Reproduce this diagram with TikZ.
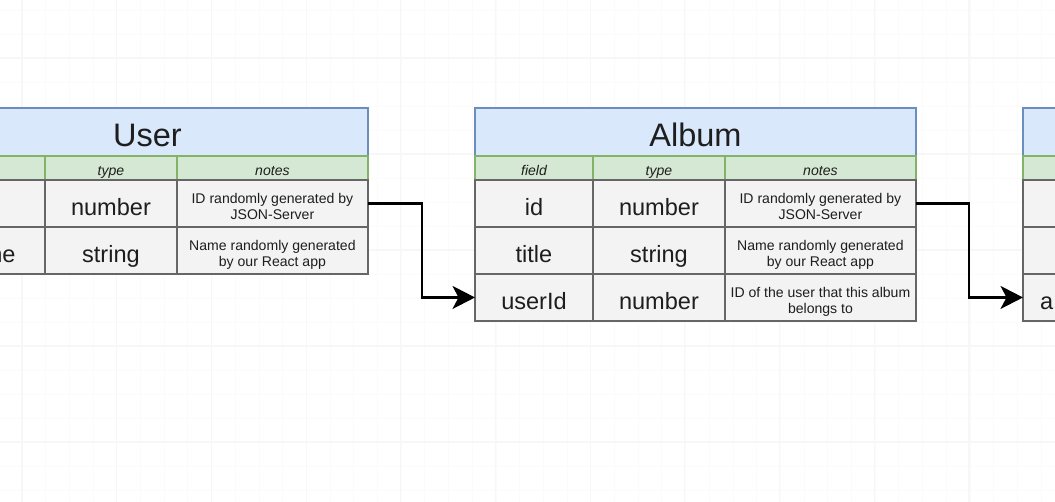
\documentclass[tikz,border=0pt]{standalone}
\usepackage{fontspec}
\setmainfont{Liberation Sans}
\usetikzlibrary{positioning,arrows.meta}
\definecolor{titlefill}{HTML}{DAE8FC}
\definecolor{titleline}{HTML}{6C8EBF}
\definecolor{headfill}{HTML}{D5E8D4}
\definecolor{headline}{HTML}{82B366}
\definecolor{cellfill}{HTML}{F3F3F3}
\definecolor{cellline}{HTML}{666666}
\definecolor{ink}{HTML}{1E1E1E}
\begin{document}
\begin{tikzpicture}[x=0.02cm,y=-0.02cm,node distance=0pt,
  every node/.style={outer sep=0pt,text=ink},
  tbox/.style={draw,line width=1.1pt,inner sep=0pt},
  title/.style={tbox,draw=titleline,fill=titlefill,minimum width=8.82cm,minimum height=0.96cm,
    font=\fontsize{18.5}{22}\selectfont,text height=16pt,text depth=0pt},
  head/.style={tbox,draw=headline,fill=headfill,minimum height=0.48cm,
    font=\fontsize{8}{9}\selectfont\itshape,text height=9pt,text depth=0pt},
  cell/.style={tbox,draw=cellline,fill=cellfill,minimum height=0.94cm,
    font=\fontsize{13.4}{16}\selectfont,text height=13.2pt,text depth=0pt},
  note/.style={cell,align=center,font=\fontsize{8}{9}\selectfont,text height=18pt,text depth=0pt},
  cut/.style={inner sep=0pt,font=\fontsize{13.4}{16}\selectfont,text height=13.2pt,text depth=0pt},
  fcol/.style={minimum width=2.36cm},
  tcol/.style={minimum width=2.64cm},
  ncol/.style={minimum width=3.82cm},
  minorgrid/.style={gray!3,line width=0.5pt},
  majorgrid/.style={gray!6,line width=0.6pt},
  link/.style={-{Stealth[length=4.5mm,width=4.6mm,inset=1.2mm]},line width=1.2pt}]
  \useasboundingbox (0,0) rectangle (1055,502);
  \clip (0,0) rectangle (1055,502);
  \fill[white] (0,0) rectangle (1055,502);
  % background grid
  \foreach \gx in {-1.7,22,...,1060} \draw[minorgrid] (\gx,0) -- (\gx,502);
  \foreach \gy in {10,34,...,510} \draw[minorgrid] (0,\gy) -- (1055,\gy);
  \foreach \gx in {22,116.7,...,1060} \draw[majorgrid] (\gx,0) -- (\gx,502);
  \foreach \gy in {58,154,...,510} \draw[majorgrid] (0,\gy) -- (1055,\gy);

  % User
  \node[title,anchor=north west] (ut) at (-73,108) {User};
  \node[head,fcol,below right=of ut.south west] (uhf) {};
  \node[head,tcol,right=of uhf] (uht) {type};
  \node[head,ncol,right=of uht] (uhn) {notes};
  \node[cell,fcol,below=of uhf] (u1f) {};
  \node[cell,tcol,right=of u1f] (u1t) {number};
  \node[note,ncol,right=of u1t] (u1n) {ID randomly generated by\\JSON-Server};
  \node[cell,fcol,below=of u1f] (u2f) {};
  \node[cell,tcol,right=of u2f] (u2t) {string};
  \node[note,ncol,right=of u2t] (u2n) {Name randomly generated\\by our React app};
  \node[cut,anchor=east] (uname) at ([xshift=-0.59cm]u2f.east) {ne};

  % Album
  \node[title,anchor=north west] (at) at (475,108) {Album};
  \node[head,fcol,below right=of at.south west] (ahf) {field};
  \node[head,tcol,right=of ahf] (aht) {type};
  \node[head,ncol,right=of aht] (ahn) {notes};
  \node[cell,fcol,below=of ahf] (a1f) {id};
  \node[cell,tcol,right=of a1f] (a1t) {number};
  \node[note,ncol,right=of a1t] (a1n) {ID randomly generated by\\JSON-Server};
  \node[cell,fcol,below=of a1f] (a2f) {title};
  \node[cell,tcol,right=of a2f] (a2t) {string};
  \node[note,ncol,right=of a2t] (a2n) {Name randomly generated\\by our React app};
  \node[cell,fcol,below=of a2f] (a3f) {userId};
  \node[cell,tcol,right=of a3f] (a3t) {number};
  \node[note,ncol,right=of a3t] (a3n) {ID of the user that this album\\belongs to};

  % next table, cut off at the right
  \node[title,anchor=north west] (ct) at (1023,108) {};
  \node[head,fcol,below right=of ct.south west] (chf) {};
  \node[cell,fcol,below=of chf] (c1f) {};
  \node[cell,fcol,below=of c1f] (c2f) {};
  \node[cell,fcol,below=of c2f] (c3f) {};
  \node[cut,anchor=west] (calbum) at ([xshift=0.34cm]c3f.west) {a};

  \draw[link] (u1n.east) -- ++(54,0) |- (a3f.west);
  \draw[link] (a1n.east) -- ++(53,0) |- (c3f.west);
\end{tikzpicture}
\end{document}
